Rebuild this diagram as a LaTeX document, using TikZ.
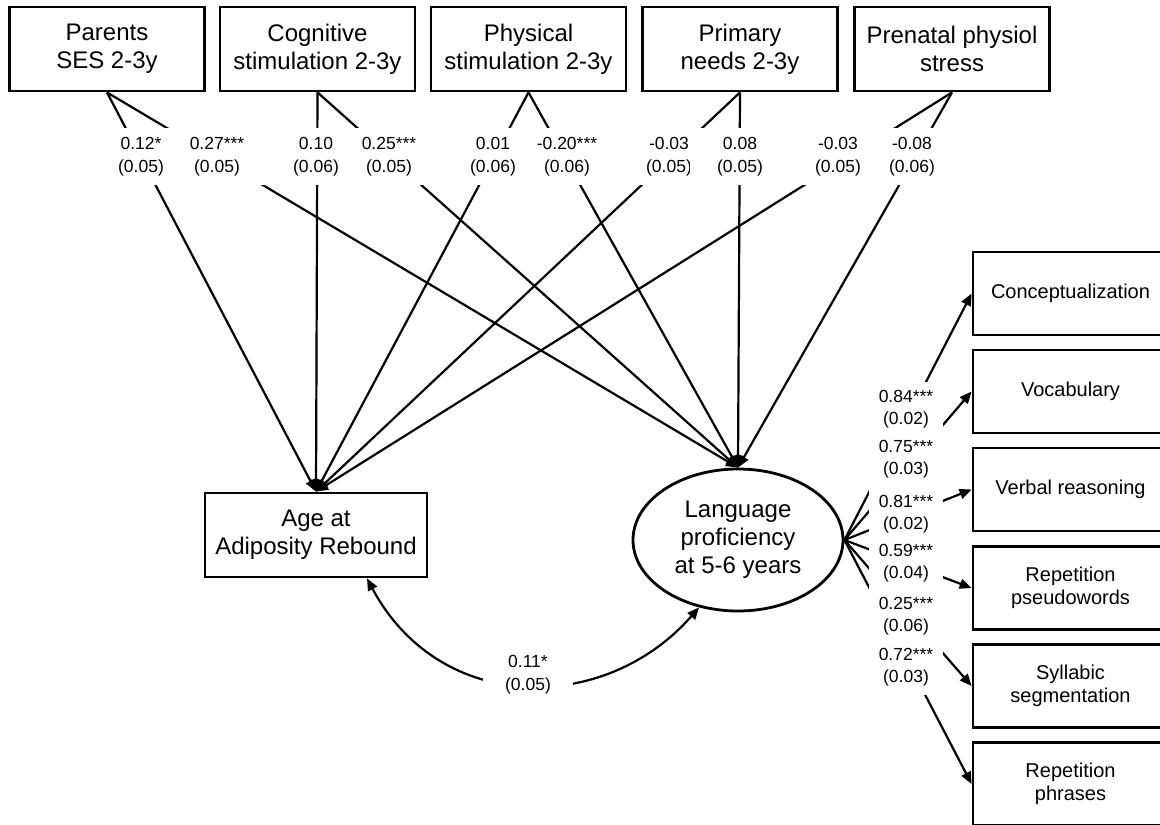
\documentclass[tikz,border=0pt]{standalone}
\usepackage{fontspec}
\setmainfont{Liberation Sans}
\usetikzlibrary{arrows.meta,shapes.geometric}
\begin{document}
\begin{tikzpicture}[x=1pt,y=-1pt,
  box/.style={draw,line width=2.8pt,minimum width=195pt,minimum height=84pt,inner sep=0pt,align=center,font=\fontsize{24}{28}\selectfont},
  rbox/.style={draw,line width=2.8pt,minimum width=195pt,minimum height=83pt,inner sep=0pt,align=center,font=\fontsize{20}{23}\selectfont},
  latent/.style={draw,ellipse,line width=2.8pt,minimum width=210pt,minimum height=142pt,inner sep=0pt,align=center,font=\fontsize{24}{28}\selectfont},
  conn/.style={line width=2.2pt,-{Triangle[length=12pt,width=10pt]}},
  cov/.style={line width=2.2pt,{Triangle[length=12pt,width=10pt]}-{Triangle[length=12pt,width=10pt]}},
  tlab/.style={fill=white,inner sep=0pt,minimum width=100pt,minimum height=57pt,align=center,font=\fontsize{17.5}{23}\selectfont},
  rlab/.style={fill=white,inner sep=0pt,minimum width=74pt,minimum height=55pt,align=center,font=\fontsize{17.5}{22}\selectfont},
  clab/.style={fill=white,inner sep=0pt,minimum width=90pt,minimum height=50pt,align=center,font=\fontsize{17.5}{23}\selectfont},
]
\path[fill=white,use as bounding box] (0,0) rectangle (1160,825);

% top boxes
\node[box] (parents) at (107,49) {Parents\\SES 2-3y};
\node[box] (cog) at (317.5,49) {Cognitive\\stimulation 2-3y};
\node[box] (phys) at (528.5,49) {Physical\\stimulation 2-3y};
\node[box] (prim) at (740,49) {Primary\\needs 2-3y};
\node[box] (pren) at (952,49) {Prenatal physiol\\stress};

% outcomes
\node[box,minimum width=222pt] (aar) at (316,535) {Age at\\Adiposity Rebound};
\node[latent] (lang) at (738,540) {Language\\proficiency\\at 5-6 years};

% indicators
\node[rbox] (c1) at (1070.5,293.5) {Conceptualization};
\node[rbox] (c2) at (1070.5,391.5) {Vocabulary};
\node[rbox] (c3) at (1070.5,489.5) {Verbal reasoning};
\node[rbox] (c4) at (1070.5,588) {Repetition\\pseudowords};
\node[rbox] (c5) at (1070.5,686) {Syllabic\\segmentation};
\node[rbox] (c6) at (1070.5,784) {Repetition\\phrases};

% paths from predictors
\foreach \s in {parents,cog,phys,prim,pren}{
  \draw[conn] (\s.south) -- (aar.north);
  \draw[conn] (\s.south) -- (lang.north);
}

% loadings
\foreach \t in {c1,c2,c3,c4,c5,c6}{
  \draw[conn] (lang.east) -- (\t.west);
}

% covariance
\draw[cov] ([xshift=51pt]aar.south) .. controls (440,715) and (605,715) .. (lang.240);

% labels top
\node[tlab] (l1) at (141,156.5) {0.12*\\(0.05)};
\node[tlab] (l2) at (217,156.5) {0.27***\\(0.05)};
\node[tlab] (l3) at (316,156.5) {0.10\\(0.06)};
\node[tlab] (l4) at (389,156.5) {0.25***\\(0.05)};
\node[tlab] (l5) at (493,156.5) {0.01\\(0.06)};
\node[tlab] (l6) at (567,156.5) {-0.20***\\(0.06)};
\node[tlab] (l7) at (669,156.5) {-0.03\\(0.05)};
\node[tlab] (l8) at (740,156.5) {0.08\\(0.05)};
\node[tlab] (l9) at (838,156.5) {-0.03\\(0.05)};
\node[tlab] (l10) at (912,156.5) {-0.08\\(0.06)};

% labels right
\node[rlab] (r1) at (906,409) {0.84***\\(0.02)};
\node[rlab] (r2) at (906,459) {0.75***\\(0.03)};
\node[rlab] (r3) at (906,514) {0.81***\\(0.02)};
\node[rlab] (r4) at (906,563) {0.59***\\(0.04)};
\node[rlab] (r5) at (906,616) {0.25***\\(0.06)};
\node[rlab] (r6) at (906,667) {0.72***\\(0.03)};

% covariance label
\node[clab] (cl) at (528,675) {0.11*\\(0.05)};
\end{tikzpicture}
\end{document}
